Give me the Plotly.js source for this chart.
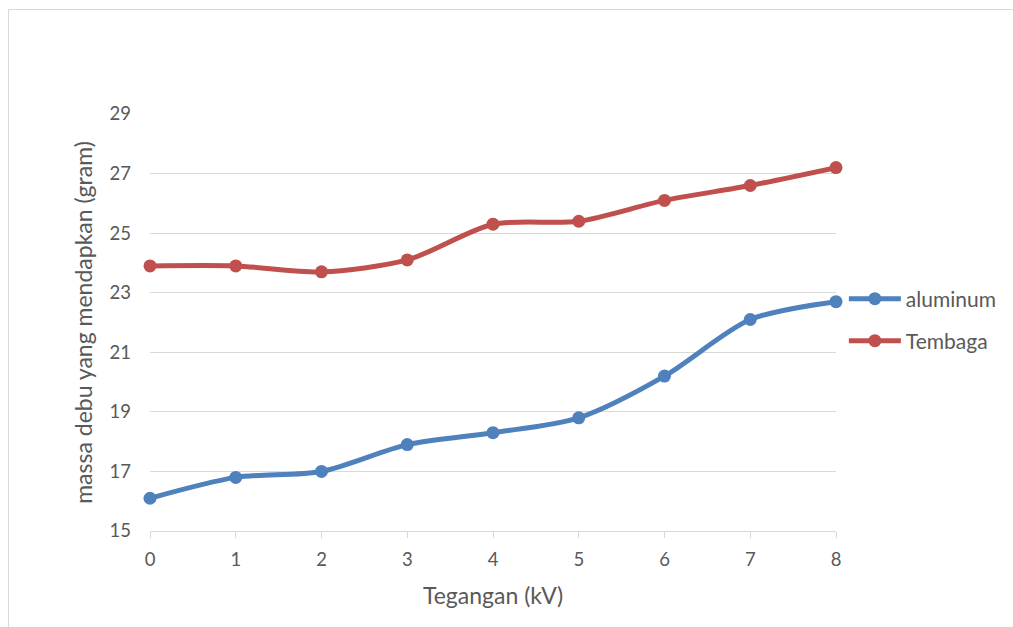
<!DOCTYPE html>
<html>
<head>
<meta charset="utf-8">
<script src="https://cdn.plot.ly/plotly-3.0.1.min.js"></script>
<style>
  html, body { margin: 0; padding: 0; background: #fff; }
  #wrap { position: relative; width: 1013px; height: 627px; overflow: hidden; }
  #chart { width: 1013px; height: 627px; }
  #frame { position: absolute; left: 8px; top: 9px; width: 1100px; height: 700px;
           border: 1px solid #d9d9d9; pointer-events: none; }
</style>
</head>
<body>
<div id="wrap">
  <div id="chart"></div>
  <div id="frame"></div>
</div>
<script>
const tegangan = [0, 1, 2, 3, 4, 5, 6, 7, 8];
const aluminum = [16.1, 16.8, 17.0, 17.9, 18.3, 18.8, 20.2, 22.1, 22.7];
const tembaga  = [23.9, 23.9, 23.7, 24.1, 25.3, 25.4, 26.1, 26.6, 27.2];
const seriesNames = ['aluminum', 'Tembaga'];
const xTitle = 'Tegangan (kV)';
const yTitle = 'massa debu yang mendapkan (gram)';

const fontFam = 'Lato, "Open Sans", sans-serif';
const txtColor = '#595959';

const traces = [
  {
    x: tegangan, y: aluminum, name: seriesNames[0], type: 'scatter', mode: 'lines+markers',
    line: { color: '#4f81bd', width: 5, shape: 'spline', smoothing: 0.8 },
    marker: { color: '#4f81bd', size: 13 }, cliponaxis: false, legend: 'legend'
  },
  {
    x: tegangan, y: tembaga, name: seriesNames[1], type: 'scatter', mode: 'lines+markers',
    line: { color: '#c0504d', width: 5, shape: 'spline', smoothing: 0.8 },
    marker: { color: '#c0504d', size: 13 }, cliponaxis: false, legend: 'legend2'
  }
];

const legendBase = {
  xanchor: 'left', yanchor: 'middle', bgcolor: 'rgba(0,0,0,0)', itemwidth: 52,
  font: { family: fontFam, size: 21, color: txtColor }
};

const layout = {
  width: 1013, height: 627,
  margin: { l: 150, r: 176, t: 114, b: 96 },
  paper_bgcolor: '#fff', plot_bgcolor: '#fff',
  font: { family: fontFam, color: txtColor, size: 18 },
  xaxis: {
    range: [0, 8], tickvals: tegangan, showgrid: false, zeroline: false,
    showline: true, linecolor: '#d9d9d9', linewidth: 1,
    ticks: 'outside', ticklen: 6, tickcolor: '#d9d9d9', ticklabelstandoff: 6,
    tickfont: { family: fontFam, size: 18.5, color: txtColor },
    title: { text: xTitle, font: { family: fontFam, size: 23, color: txtColor }, standoff: 18 }
  },
  yaxis: {
    range: [15, 29], dtick: 2, tick0: 15, showgrid: true, gridcolor: '#d9d9d9', gridwidth: 1,
    zeroline: false, showline: false, ticks: '', ticklabelstandoff: 18,
    tickfont: { family: fontFam, size: 18.5, color: txtColor },
    title: { text: yTitle, font: { family: fontFam, size: 23, color: txtColor }, standoff: 10 }
  },
  legend: Object.assign({}, legendBase, { x: 1.010, y: (531 - 299) / 417 }),
  legend2: Object.assign({}, legendBase, { x: 1.010, y: (531 - 341) / 417 }),
  showlegend: true
};

Plotly.newPlot('chart', traces, layout, { displayModeBar: false, staticPlot: true });
</script>
</body>
</html>
